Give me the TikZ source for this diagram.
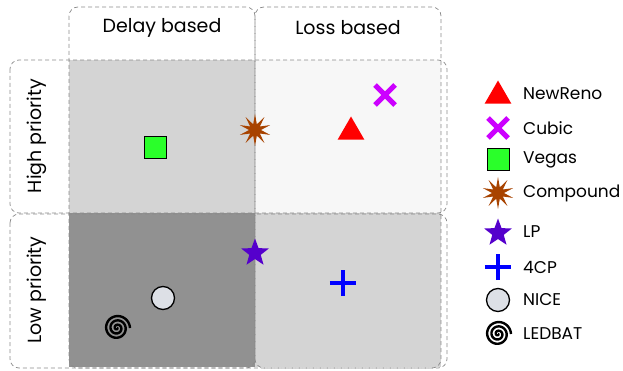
\documentclass[tikz,border=0pt]{standalone}
\usepackage{fontspec}
\setmainfont{Poppins}
\usetikzlibrary{shapes.geometric,shapes.misc,positioning}

\definecolor{renored}{HTML}{FF0000}
\definecolor{cubicpink}{HTML}{CC00FF}
\definecolor{vegasgreen}{HTML}{2AFF2A}
\definecolor{compbrown}{HTML}{A84300}
\definecolor{lppurple}{HTML}{5500CC}
\definecolor{nicegray}{HTML}{DDE0E6}
\definecolor{framegray}{HTML}{8A8A8A}

\tikzset{
  frame/.style={draw=framegray, dashed, dash pattern=on 4pt off 3pt, rounded corners=9pt, line width=0.7pt},
  head/.style={font=\fontsize{19}{22}\selectfont},
  legtext/.style={font=\fontsize{17}{20}\selectfont, anchor=west, inner sep=0pt},
  reno/.style={regular polygon, regular polygon sides=3, fill=renored, minimum size=31pt, inner sep=0pt},
  cubic/.style={cross out, draw=cubicpink, line width=5pt, minimum size=15pt, inner sep=0pt},
  vegas/.style={rectangle, draw=black, fill=vegasgreen, line width=1pt, minimum size=22pt, inner sep=0pt},
  compound/.style={star, star points=10, star point ratio=2.7, fill=compbrown, minimum size=32pt, inner sep=0pt},
  lp/.style={star, star points=5, star point ratio=2.4, fill=lppurple, minimum size=29pt, inner sep=0pt},
  fourcp/.style={cross out, rotate=45, draw=blue, line width=3.6pt, minimum size=15pt, inner sep=0pt},
  nice/.style={circle, draw=black, fill=nicegray, line width=1.3pt, minimum size=23pt, inner sep=0pt},
  spiral/.style={line width=2.4pt, black}
}

\begin{document}
\begin{tikzpicture}[x=1pt, y=-1pt]
  \useasboundingbox (0,0) rectangle (623,371);

  % quadrants
  \fill[black!17] (69,60) rectangle (255,213);
  \fill[black!3] (255,60) rectangle (441,213);
  \fill[black!43] (69,213) rectangle (255,367);
  \fill[black!17] (255,213) rectangle (441,367);

  % dashed frames
  \draw[frame] (69,7) rectangle (255,368);
  \draw[frame] (255,7) rectangle (441,368);
  \draw[frame] (10,60) rectangle (447,213);
  \draw[frame] (10,214) rectangle (447,368);

  % headers
  \node[head] (delay) at (162,28) {Delay based};
  \node[head] (loss) at (348,28) {Loss based};
  \node[head, rotate=90] (high) at (37,136) {High priority};
  \node[head, rotate=90] (low) at (37,290) {Low priority};

  % protocols
  \node[vegas] (vegaspt) at (155,148) {};
  \node[compound] (comppt) at (255,130) {};
  \node[reno] (renopt) at (351,132) {};
  \node[cubic] (cubicpt) at (385,95) {};
  \node[lp] (lppt) at (255,253) {};
  \node[fourcp] (fourcppt) at (343,283) {};
  \node[nice] (nicept) at (163,298) {};
  \coordinate (ledbatpt) at (117,328);
  \draw[spiral, shift={(ledbatpt)}] plot[domain=0:1080, samples=120, smooth] (\x:{\x/1080*13});

  % legend
  \node[reno] (renoleg) at (498,96) {};
  \node[cubic] (cubicleg) at (498,128) {};
  \node[vegas] (vegasleg) at (498,160) {};
  \node[compound] (compleg) at (498,193) {};
  \node[lp] (lpleg) at (498,233) {};
  \node[fourcp] (fourcpleg) at (498,267) {};
  \node[nice] (niceleg) at (498,300) {};
  \coordinate (ledbatleg) at (498,334);
  \draw[spiral, shift={(ledbatleg)}] plot[domain=0:1080, samples=120, smooth] (\x:{\x/1080*13});

  \node[legtext] (renotxt) at (523,94) {NewReno};
  \node[legtext] (cubictxt) at (523,128) {Cubic};
  \node[legtext] (vegastxt) at (523,160) {Vegas};
  \node[legtext] (comptxt) at (523,193) {Compound};
  \node[legtext] (lptxt) at (523,232) {LP};
  \node[legtext] (fourcptxt) at (523,267) {4CP};
  \node[legtext] (nicetxt) at (523,300) {NICE};
  \node[legtext] (ledbattxt) at (523,334) {LEDBAT};
\end{tikzpicture}
\end{document}
